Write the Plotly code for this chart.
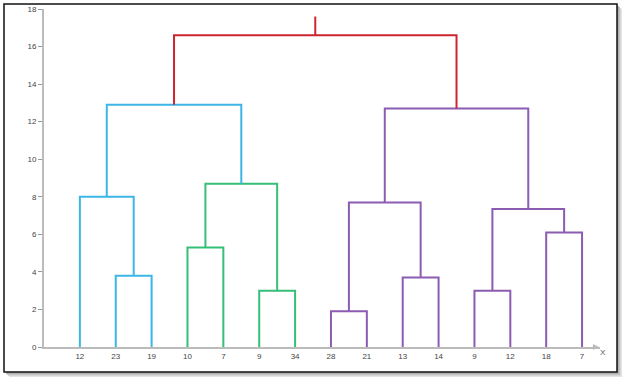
import plotly.graph_objects as go

# ---- data ----
leaf_labels = ["12", "23", "19", "10", "7", "9", "34", "28", "21", "13", "14", "9", "12", "18", "7"]
# merges: (left node, right node, height); nodes 0..14 are leaves, 15+ are merges in order
merge_left = [1, 15, 3, 5, 17, 16, 7, 9, 21, 11, 13, 24, 23, 20]
merge_right = [2, 0, 4, 6, 18, 19, 8, 10, 22, 12, 14, 25, 26, 27]
merge_height = [3.8, 8.0, 5.3, 3.0, 8.7, 12.9, 1.9, 3.7, 7.7, 3.0, 6.1, 7.35, 12.7, 16.6]
merge_color = ["#3bb6e6", "#3bb6e6", "#35bf78", "#35bf78", "#35bf78", "#3bb6e6",
               "#8c5cb3", "#8c5cb3", "#8c5cb3", "#8c5cb3", "#8c5cb3", "#8c5cb3", "#8c5cb3", "#cc2630"]
root_stem_top = 17.6
y_ticks = [0, 2, 4, 6, 8, 10, 12, 14, 16, 18]

# ---- geometry through data coordinates ----
n = len(leaf_labels)
pos = {i: (i + 1, 0.0) for i in range(n)}
fig = go.Figure()
for k, (a, b, h, c) in enumerate(zip(merge_left, merge_right, merge_height, merge_color)):
    xa, ya = pos[a]
    xb, yb = pos[b]
    fig.add_trace(go.Scatter(x=[xa, xa, xb, xb], y=[ya, h, h, yb], mode="lines",
                             line=dict(color=c, width=2), hoverinfo="skip", showlegend=False))
    pos[n + k] = ((xa + xb) / 2, h)
# root stem
rx, ry = pos[n + len(merge_height) - 1]
fig.add_trace(go.Scatter(x=[rx, rx], y=[ry, root_stem_top], mode="lines",
                         line=dict(color=merge_color[-1], width=2), hoverinfo="skip", showlegend=False))

# frame with shadow (pixel -> paper)
L, R, T, B = 44, 30, 9, 38
W, H = 630, 385
pw, ph = W - L - R, H - T - B
def px(x):
    return (x - L) / pw
def py(y):
    return (H - B - y) / ph

shapes = []
for off, col in [(5, "#e4e4e4"), (4, "#d6d6d6"), (3, "#c4c4c4"), (2, "#b0b0b0")]:
    shapes.append(dict(type="rect", xref="paper", yref="paper", x0=px(4 + off), x1=px(617 + off),
                       y0=py(372 + off), y1=py(4 + off), line=dict(width=0), fillcolor=col, layer="below"))
shapes.append(dict(type="rect", xref="paper", yref="paper", x0=px(4), x1=px(617), y0=py(372), y1=py(4),
                   line=dict(color="#111111", width=1.5), fillcolor="white", layer="below"))

fig.update_layout(
    width=W, height=H,
    margin=dict(l=L, r=R, t=T, b=B),
    paper_bgcolor="white", plot_bgcolor="rgba(0,0,0,0)",
    shapes=shapes,
    font=dict(family="Liberation Sans, Arial, sans-serif", size=8, color="#444444"),
    xaxis=dict(range=[0, 15.5], tickmode="array", tickvals=list(range(1, n + 1)), ticktext=leaf_labels,
               showgrid=False, zeroline=False, showline=True, linecolor="#bbbbbb", linewidth=2,
               ticks="", tickfont=dict(size=8, color="#444444"), fixedrange=True, automargin=False),
    yaxis=dict(range=[0, 18], tickmode="array", tickvals=y_ticks, showgrid=False, zeroline=False,
               showline=True, linecolor="#bbbbbb", linewidth=2, ticks="outside", ticklen=4,
               tickcolor="#999999", tickwidth=1, tickfont=dict(size=8, color="#444444"), fixedrange=True,
               automargin=False),
    annotations=[
        dict(xref="paper", yref="paper", x=px(603), y=py(352), text="X", showarrow=False,
             font=dict(size=8, color="#555555"), xanchor="center", yanchor="middle"),
        dict(xref="paper", yref="paper", x=px(599), y=py(347), ax=-8, ay=0, axref="pixel", ayref="pixel",
             text="", showarrow=True, arrowhead=2, arrowsize=1, arrowwidth=1.2, arrowcolor="#bbbbbb"),
    ],
)
fig.write_html("out.html", config={"displayModeBar": False},
               post_script="document.body.style.margin='0';document.body.style.overflow='hidden';")
